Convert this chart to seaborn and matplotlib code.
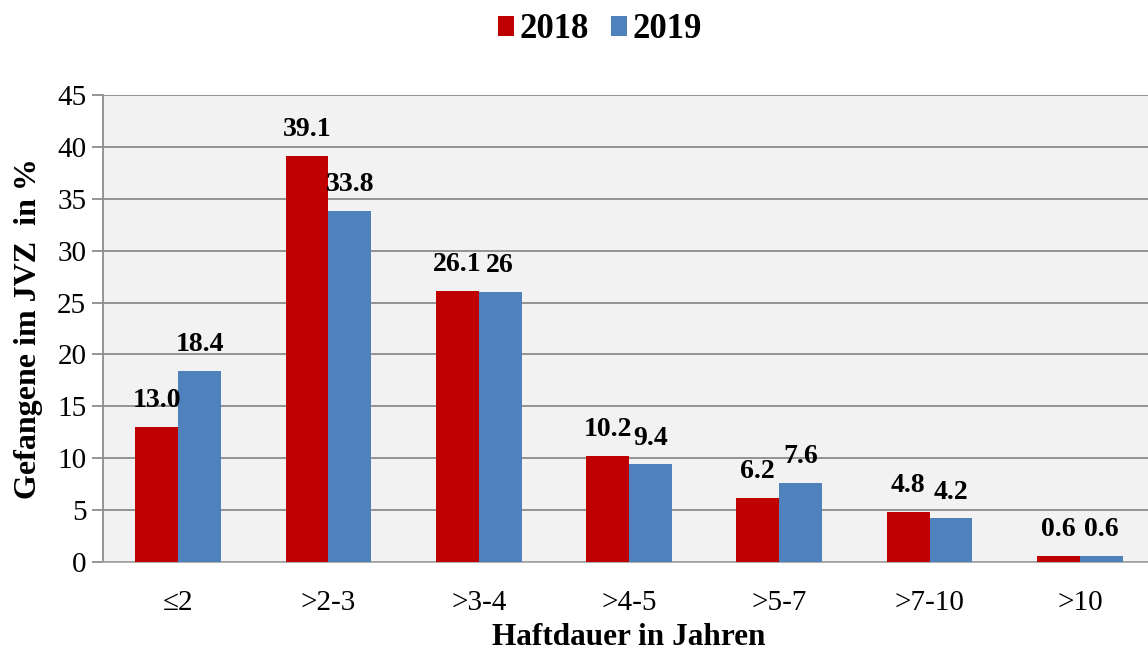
import numpy as np
import pandas as pd
import matplotlib
matplotlib.use("Agg")
import matplotlib.pyplot as plt
import seaborn as sns

categories = ["\u22642", ">2-3", ">3-4", ">4-5", ">5-7", ">7-10", ">10"]
values_2018 = [13.0, 39.1, 26.1, 10.2, 6.2, 4.8, 0.6]
values_2019 = [18.4, 33.8, 26.0, 9.4, 7.6, 4.2, 0.6]
labels_2018 = ["13.0", "39.1", "26.1", "10.2", "6.2", "4.8", "0.6"]
labels_2019 = ["18.4", "33.8", "26", "9.4", "7.6", "4.2", "0.6"]
years = ["2018", "2019"]
y_ticks = [0, 5, 10, 15, 20, 25, 30, 35, 40, 45]

df = pd.DataFrame({
    "Kategorie": categories * 2,
    "Wert": values_2018 + values_2019,
    "Jahr": [years[0]] * len(categories) + [years[1]] * len(categories),
})

sns.set_style("white")
plt.rcParams["font.family"] = ["Liberation Serif", "DejaVu Serif"]
plt.rcParams["text.color"] = "black"
plt.rcParams["axes.labelcolor"] = "black"
plt.rcParams["xtick.color"] = "black"
plt.rcParams["ytick.color"] = "black"

fig = plt.figure(figsize=(11.48, 6.53), dpi=100)
ax = fig.add_axes([103 / 1148, 91 / 653, 1052 / 1148, 467 / 653])
ax.set_facecolor("#F2F2F2")

sns.barplot(data=df, x="Kategorie", y="Wert", hue="Jahr",
            palette=["#C00000", "#4F81BD"], width=0.57, ax=ax,
            saturation=1, edgecolor="none", zorder=3)

for cont, labs in zip(ax.containers, [labels_2018, labels_2019]):
    ax.bar_label(cont, labels=labs, padding=10, fontsize=20,
                 fontweight="bold", color="black")

ax.set_xlim(-0.5, len(categories) - 0.5)
ax.set_ylim(0, 45)
ax.set_yticks(y_ticks)
ax.yaxis.grid(True, color="#8C8C8C", linewidth=1.3, zorder=0)
ax.set_axisbelow(True)
ax.xaxis.grid(False)

ax.set_xticks(np.arange(-0.5, len(categories), 1), minor=True)
ax.tick_params(axis="x", which="major", length=0, pad=20, labelsize=21,
               labelcolor="black")
ax.tick_params(axis="x", which="minor", length=8, width=1.3, color="#8C8C8C")
ax.tick_params(axis="y", which="major", length=8, width=1.3, color="#8C8C8C",
               labelsize=21, pad=4, left=True, labelcolor="black")

for s in ["top", "right"]:
    ax.spines[s].set_visible(False)
ax.spines["left"].set_color("#8C8C8C")
ax.spines["left"].set_linewidth(1.3)
ax.spines["bottom"].set_color("#A6A6A6")
ax.spines["bottom"].set_linewidth(1.3)

ax.set_xlabel("Haftdauer in Jahren", fontsize=22.5, fontweight="bold",
              labelpad=5, color="black")
ax.set_ylabel("Gefangene im JVZ  in %", fontsize=23, fontweight="bold",
              labelpad=10, color="black")

handles, lbls = ax.get_legend_handles_labels()
if ax.legend_:
    ax.legend_.remove()
fig.legend(handles, lbls, loc="center", bbox_to_anchor=(600 / 1148, 1 - 30 / 653),
           ncol=2, frameon=False, handlelength=0.46, handleheight=0.5,
           handletextpad=0.15, columnspacing=0.65,
           prop={"size": 25, "weight": "bold"})

fig.savefig("out.png", dpi=100)
